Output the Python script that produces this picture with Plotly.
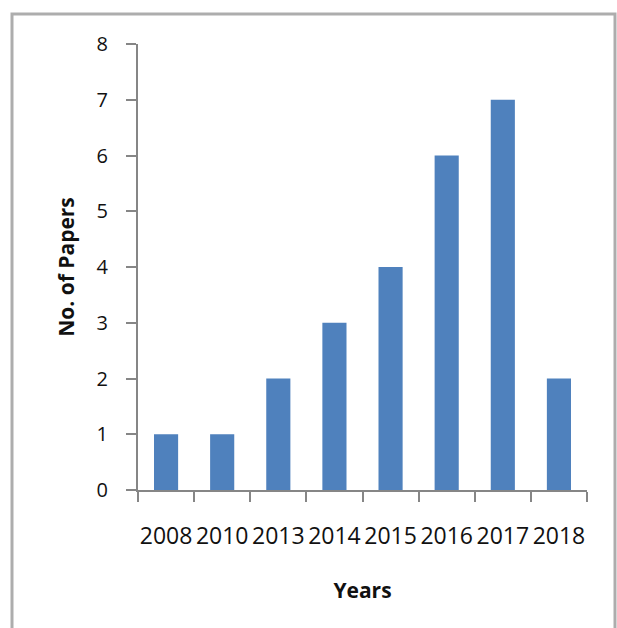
import plotly.graph_objects as go

years = ["2008", "2010", "2013", "2014", "2015", "2016", "2017", "2018"]
papers = [1, 1, 2, 3, 4, 6, 7, 2]

BAR_COLOR = "#4F81BD"
AXIS_COLOR = "#868686"
FONT = "'Open Sans', sans-serif"

W, H = 617, 628
L, R, T, B = 138, 30, 44, 138
pw, ph = W - L - R, H - T - B

def px_to_paper_x(px):
    return (px - L) / pw

def px_to_paper_y(py):
    return (H - B - py) / ph

fig = go.Figure(
    go.Bar(
        x=years,
        y=papers,
        marker=dict(color=BAR_COLOR, line=dict(width=0)),
        width=0.43,
        hoverinfo="x+y",
    )
)

fig.update_layout(
    width=W,
    height=H,
    margin=dict(l=L, r=R, t=T, b=B),
    paper_bgcolor="white",
    plot_bgcolor="white",
    showlegend=False,
    font=dict(family=FONT, color="#111111"),
    xaxis=dict(
        type="category",
        tickson="boundaries",
        tickangle=0,
        ticks="outside",
        ticklen=10,
        tickwidth=2,
        tickcolor=AXIS_COLOR,
        showline=True,
        linecolor=AXIS_COLOR,
        linewidth=2,
        showgrid=False,
        tickfont=dict(size=23, family=FONT),
        ticklabelstandoff=24,
        title=dict(text="<b>Years</b>", font=dict(size=21, family=FONT), standoff=34),
    ),
    yaxis=dict(
        range=[0, 8],
        tickvals=list(range(0, 9)),
        ticks="outside",
        ticklen=10,
        tickwidth=2,
        tickcolor=AXIS_COLOR,
        showline=True,
        linecolor=AXIS_COLOR,
        linewidth=2,
        showgrid=False,
        zeroline=False,
        tickfont=dict(size=20, family=FONT),
        ticklabelstandoff=14,
        title=dict(text="<b>No. of Papers</b>", font=dict(size=21, family=FONT), standoff=16),
    ),
    shapes=[
        dict(
            type="rect",
            xref="paper",
            yref="paper",
            x0=px_to_paper_x(12),
            x1=px_to_paper_x(615),
            y0=px_to_paper_y(660),
            y1=px_to_paper_y(14),
            line=dict(color="#ADADAD", width=3),
            fillcolor="rgba(0,0,0,0)",
            layer="below",
        )
    ],
)

fig.write_html("out.html")
